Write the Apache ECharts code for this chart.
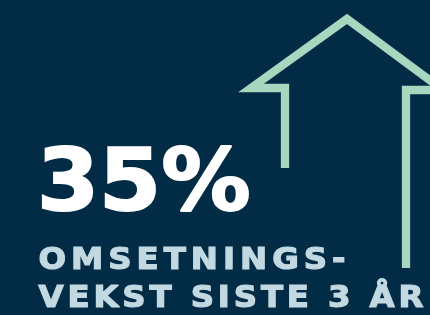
<!DOCTYPE html>
<html><head><meta charset="utf-8">
<style>html,body{margin:0;padding:0;background:#022b46;}#c{width:430px;height:315px;}</style>
<script src="https://cdn.jsdelivr.net/npm/echarts@6/dist/echarts.min.js"></script>
</head><body><div id="c"></div>
<script>
// ---- data ----
const growthValue = 35;
const valueSuffix = '%';
const captionLines = ['OMSETNINGS-', 'VEKST SISTE 3 ÅR'];
// arrow outline vertices, in the chart's 430 x 315 unit space (y grows downward)
const arrowX = [285, 285, 251, 347, 443, 406, 406];
const arrowY = [168, 88, 88, 19, 90, 90, 268];

// ---- colours / styles ----
const BG = '#022b46';
const GREEN = '#a8d6be';
const CAPTION = '#c3d9e1';
const FONT = '"DejaVu Sans", Verdana, sans-serif';

const chart = echarts.init(document.getElementById('c'), null, {renderer: 'canvas'});

const mctx = document.createElement('canvas').getContext('2d');
function trackedText(text, x, y, size, color, tracking, sx, weightPx) {
  mctx.font = 'bold ' + size + 'px ' + FONT;
  const els = [];
  let cx = x;
  for (const ch of text) {
    els.push({
      type: 'text', x: cx, y: y, scaleX: sx, silent: true,
      style: {text: ch, fontSize: size, fontWeight: 'bold', fontFamily: FONT,
              fill: color, stroke: color, lineWidth: weightPx,
              align: 'left', verticalAlign: 'middle'}
    });
    cx += mctx.measureText(ch).width * sx + tracking;
  }
  return els;
}

const graphics = [].concat(
  trackedText(String(growthValue) + valueSuffix, 37, 187.5, 85, '#ffffff', 0, 1.05, 2),
  trackedText(captionLines[0], 38.5, 261.2, 30, CAPTION, 5.0, 1.08, 1.2),
  trackedText(captionLines[1], 38.5, 299.2, 30, CAPTION, 3.85, 1.08, 1.2)
);

chart.setOption({
  backgroundColor: BG,
  animation: false,
  grid: {left: 0, right: 0, top: 0, bottom: 0},
  xAxis: {type: 'value', min: 0, max: 430, show: false},
  yAxis: {type: 'value', min: 0, max: 315, inverse: true, show: false},
  series: [{
    type: 'line',
    data: arrowX.map((x, i) => [x, arrowY[i]]),
    symbol: 'none',
    clip: true,
    lineStyle: {color: GREEN, width: 8.3, cap: 'butt', join: 'miter', miterLimit: 20}
  }],
  graphic: graphics
});
</script>
</body></html>
